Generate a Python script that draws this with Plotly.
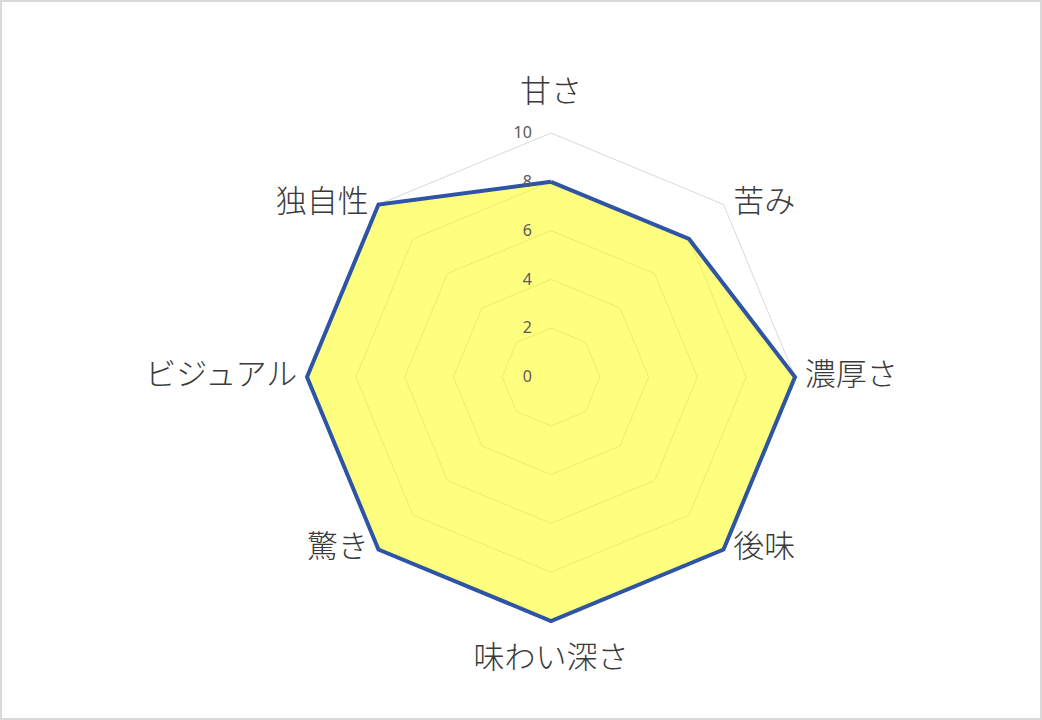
import plotly.graph_objects as go

categories = ['甘さ', '苦み', '濃厚さ', '後味', '味わい深さ', '驚き', 'ビジュアル', '独自性']
scores = [8, 8, 10, 10, 10, 10, 10, 10]
radial_ticks = [0, 2, 4, 6, 8, 10]

W, H = 1042, 720
cx, cy, rad10 = 551, 377, 244  # pixel centre / radius of the "10" ring in the reference
rmax = 10.2                    # a bit of headroom so the outline is not clipped
rad = rad10 * rmax / 10

fig = go.Figure()

# category labels: Excel puts them beside the outer ring, so place per direction
label_pos = ['top center', 'middle right', 'middle right', 'middle right',
             'bottom center', 'middle left', 'middle left', 'middle left']
label_pad = [36 if 'center' in p else 14 for p in label_pos]
fig.add_trace(go.Scatterpolar(
  r=[radial_ticks[-1]] * len(categories),
  theta=categories,
  mode='markers+text',
  marker=dict(size=label_pad, color='rgba(0,0,0,0)', line=dict(width=0)),
  text=categories,
  textposition=label_pos,
  textfont=dict(size=31, color='#3A3A3A', family='Noto Sans CJK JP', weight=300),
  cliponaxis=False,
  hoverinfo='skip',
))

fig.add_trace(go.Scatterpolar(
  r=scores + scores[:1],
  theta=categories + categories[:1],
  mode='lines',
  fill='toself',
  fillcolor='rgba(255,255,0,0.5)',
  line=dict(color='#2E54A6', width=4),
  hoverinfo='r+theta',
))

fig.update_layout(
  width=W,
  height=H,
  margin=dict(l=0, r=0, t=0, b=0),
  paper_bgcolor='white',
  showlegend=False,
  font=dict(family='Noto Sans CJK JP', color='#404040'),
  polar=dict(
    domain=dict(
      x=[(cx - rad) / W, (cx + rad) / W],
      y=[(H - cy - rad) / H, (H - cy + rad) / H],
    ),
    bgcolor='rgba(0,0,0,0)',
    gridshape='linear',
    angularaxis=dict(
      direction='clockwise',
      rotation=90,
      showgrid=False,
      showline=False,
      showticklabels=False,
      ticks='',
    ),
    radialaxis=dict(
      range=[0, rmax],
      tickvals=radial_ticks,
      angle=90,
      side='counterclockwise',
      tickangle=90,
      showline=False,
      ticks='outside',
      ticklen=13,
      tickcolor='rgba(0,0,0,0)',
      gridcolor='#D9D9D9',
      gridwidth=1,
      tickfont=dict(size=16, color='#595959', family='Noto Sans'),
    ),
  ),
  shapes=[dict(
    type='rect', xref='paper', yref='paper',
    x0=0.001, x1=0.999, y0=0.0015, y1=0.9985,
    line=dict(color='#D9D9D9', width=2),
  )],
)

fig.write_html(
  'out.html',
  config=dict(displayModeBar=False),
  post_script="document.body.style.margin='0';",
)
